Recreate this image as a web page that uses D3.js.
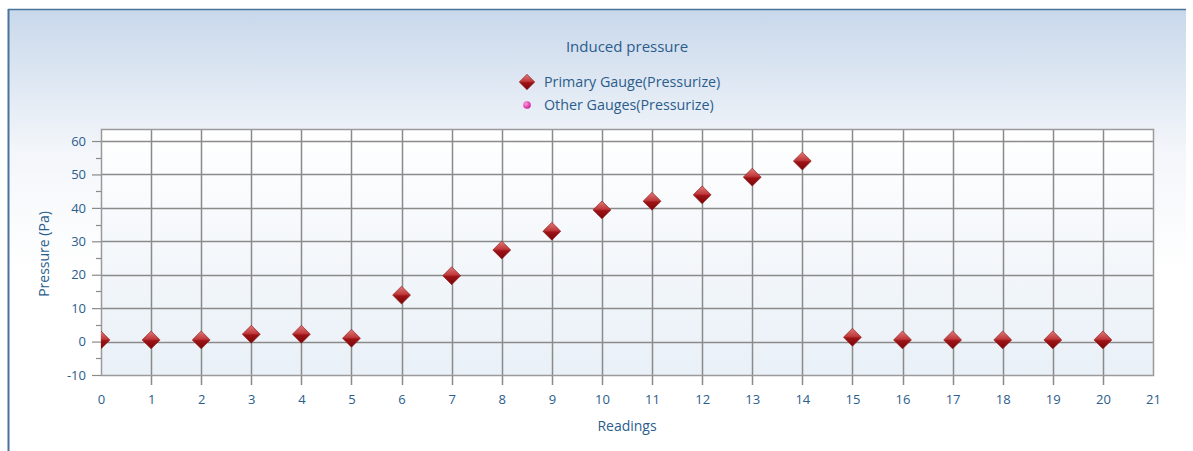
<!DOCTYPE html>
<html>
<head>
<meta charset="utf-8">
<script src="https://cdn.jsdelivr.net/npm/d3@7"></script>
<style>
  html, body { margin: 0; padding: 0; background: #ffffff; }
  svg { display: block; }
  text { font-family: "Open Sans", "Noto Sans", "DejaVu Sans", sans-serif; fill: #2b5d8c; }
</style>
</head>
<body>
<svg id="chart" width="1193" height="451"></svg>
<script>
// Readings on the x axis and the primary gauge pressure at each reading
const readings = [0, 1, 2, 3, 4, 5, 6, 7, 8, 9, 10, 11, 12, 13, 14, 15, 16, 17, 18, 19, 20];
const primaryPressure = [0.5, 0.5, 0.5, 2.2, 2.2, 1, 13.9, 19.7, 27.4, 33, 39.4, 42, 43.9, 49.2, 54, 1.3, 0.5, 0.5, 0.5, 0.5, 0.5];
const otherPressure = [];
const xTicks = d3.range(0, 22);
const yTicks = [-10, 0, 10, 20, 30, 40, 50, 60];
const yMinorTicks = [-5, 5, 15, 25, 35, 45, 55];
const seriesNames = ["Primary Gauge(Pressurize)", "Other Gauges(Pressurize)"];
const chartTitle = "Induced pressure";
const xTitle = "Readings";
const yTitle = "Pressure (Pa)";

const svg = d3.select("#chart");
const W = 1193, H = 451;
const plot = { left: 101, right: 1153, top: 129, bottom: 375 };

const defs = svg.append("defs");

// Panel background: blue at the top fading to white
const bg = defs.append("linearGradient").attr("id", "panelBg")
  .attr("x1", 0).attr("y1", 0).attr("x2", 0).attr("y2", 1);
bg.append("stop").attr("offset", "0%").attr("stop-color", "#c8d8eb");
bg.append("stop").attr("offset", "32%").attr("stop-color", "#f3f6fa");
bg.append("stop").attr("offset", "60%").attr("stop-color", "#ffffff");
bg.append("stop").attr("offset", "100%").attr("stop-color", "#ffffff");

// Plot area background: white fading to pale blue at the bottom
const pb = defs.append("linearGradient").attr("id", "plotBg")
  .attr("x1", 0).attr("y1", 0).attr("x2", 0).attr("y2", 1);
pb.append("stop").attr("offset", "0%").attr("stop-color", "#ffffff");
pb.append("stop").attr("offset", "100%").attr("stop-color", "#e9f0f7");

// Marker fill
const mg = defs.append("linearGradient").attr("id", "markerFill")
  .attr("x1", 0).attr("y1", 0).attr("x2", 1).attr("y2", 1);
mg.append("stop").attr("offset", "0%").attr("stop-color", "#e07a7a");
mg.append("stop").attr("offset", "45%").attr("stop-color", "#c0393b");
mg.append("stop").attr("offset", "55%").attr("stop-color", "#9c1316");
mg.append("stop").attr("offset", "100%").attr("stop-color", "#7a0608");

const pg = defs.append("radialGradient").attr("id", "pinkFill")
  .attr("cx", "35%").attr("cy", "35%").attr("r", "70%");
pg.append("stop").attr("offset", "0%").attr("stop-color", "#ff9be0");
pg.append("stop").attr("offset", "100%").attr("stop-color", "#d0189a");

defs.append("clipPath").attr("id", "plotClip")
  .append("rect")
  .attr("x", plot.left).attr("y", plot.top)
  .attr("width", plot.right - plot.left).attr("height", plot.bottom - plot.top);

// Panel
svg.append("rect").attr("x", 8).attr("y", 9).attr("width", 1178).attr("height", H - 9)
  .attr("fill", "url(#panelBg)");
svg.append("line").attr("x1", 8).attr("x2", 1186).attr("y1", 9.5).attr("y2", 9.5)
  .attr("stroke", "#4a739b").attr("stroke-width", 1.6);
svg.append("line").attr("x1", 8.5).attr("x2", 8.5).attr("y1", 9).attr("y2", H)
  .attr("stroke", "#4a739b").attr("stroke-width", 2);

// Scales
const x = d3.scaleLinear().domain([0, 21]).range([plot.left, plot.right]);
const y = d3.scaleLinear().domain([-10, 63.6]).range([plot.bottom, plot.top]);

svg.append("rect")
  .attr("x", plot.left).attr("y", plot.top)
  .attr("width", plot.right - plot.left).attr("height", plot.bottom - plot.top)
  .attr("fill", "url(#plotBg)");

// Grid lines
const gridColor = "#8a8a8a";
svg.append("g").selectAll("line").data(yTicks.filter(d => d > -10)).join("line")
  .attr("x1", plot.left).attr("x2", plot.right)
  .attr("y1", d => Math.round(y(d)) + 0.5).attr("y2", d => Math.round(y(d)) + 0.5)
  .attr("stroke", gridColor).attr("stroke-width", 1.5);
svg.append("g").selectAll("line").data(xTicks.filter(d => d > 0 && d < 21)).join("line")
  .attr("x1", d => Math.round(x(d)) + 0.5).attr("x2", d => Math.round(x(d)) + 0.5)
  .attr("y1", plot.top).attr("y2", plot.bottom + 10)
  .attr("stroke", gridColor).attr("stroke-width", 1.5);

// Plot frame
svg.append("rect")
  .attr("x", plot.left + 0.5).attr("y", plot.top + 0.5)
  .attr("width", plot.right - plot.left).attr("height", plot.bottom - plot.top)
  .attr("fill", "none").attr("stroke", "#9a9a9a").attr("stroke-width", 1.5);

// Y axis (plain hyphen for negative values)
const yAxis = d3.axisLeft(y).tickValues(yTicks).tickSize(9).tickPadding(6).tickFormat(d => String(d));
const yg = svg.append("g").attr("transform", `translate(${plot.left},0)`).call(yAxis);
yg.select(".domain").remove();
yg.selectAll(".tick line").attr("stroke", gridColor).attr("stroke-width", 1.2);
yg.selectAll(".tick text").style("font-size", "13px").style("fill", "#2b5d8c");
svg.append("g").selectAll("line").data(yMinorTicks).join("line")
  .attr("x1", plot.left - 5).attr("x2", plot.left)
  .attr("y1", d => Math.round(y(d)) + 0.5).attr("y2", d => Math.round(y(d)) + 0.5)
  .attr("stroke", gridColor).attr("stroke-width", 1.2);

// X axis labels
const xAxis = d3.axisBottom(x).tickValues(xTicks).tickSize(0).tickPadding(20).tickFormat(d => String(d));
const xg = svg.append("g").attr("transform", `translate(0,${plot.bottom})`).call(xAxis);
xg.select(".domain").remove();
xg.selectAll(".tick text").style("font-size", "13px").style("fill", "#2b5d8c");

// Axis titles
svg.append("text").attr("x", (plot.left + plot.right) / 2).attr("y", 431)
  .attr("text-anchor", "middle").style("font-size", "14px").text(xTitle);
svg.append("text").attr("transform", `translate(49,${(plot.top + plot.bottom) / 2 + 2}) rotate(-90)`)
  .attr("text-anchor", "middle").style("font-size", "14px").text(yTitle);

// Title and legend
svg.append("text").attr("x", 627).attr("y", 52).attr("text-anchor", "middle")
  .style("font-size", "15px").text(chartTitle);

const diamond = d3.symbol().type(d3.symbolSquare).size(120);
const legend = svg.append("g");
legend.append("path").attr("d", diamond())
  .attr("transform", "translate(527,82) rotate(45)")
  .attr("fill", "url(#markerFill)").attr("stroke", "#8a1a1a").attr("stroke-width", 0.6);
legend.append("circle").attr("cx", 527).attr("cy", 105).attr("r", 3.8).attr("fill", "url(#pinkFill)");
legend.selectAll("text").data(seriesNames).join("text")
  .attr("x", 544).attr("y", (d, i) => 87 + i * 23)
  .style("font-size", "14.3px").text(d => d);

// Markers
const markerShape = d3.symbol().type(d3.symbolSquare).size(160);
svg.append("g").attr("clip-path", "url(#plotClip)")
  .selectAll("path").data(readings.map((r, i) => ({ r, v: primaryPressure[i] }))).join("path")
  .attr("d", markerShape())
  .attr("transform", d => `translate(${x(d.r)},${y(d.v)}) rotate(45)`)
  .attr("fill", "url(#markerFill)").attr("stroke", "#8a1a1a").attr("stroke-width", 0.6);
</script>
</body>
</html>
